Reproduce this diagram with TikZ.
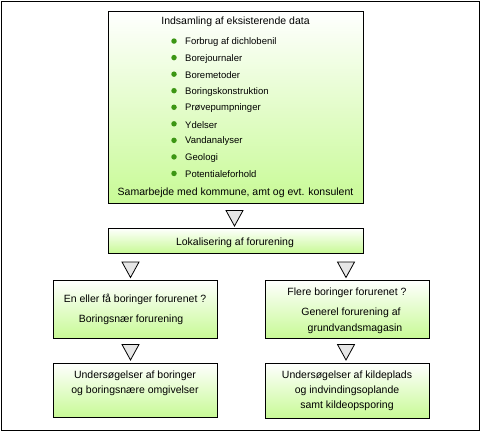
\documentclass[tikz,border=0pt]{standalone}
\usepackage{fontspec}
\setmainfont{Liberation Sans}
\definecolor{boxgreen}{RGB}{200,250,150}
\definecolor{bulletgreen}{RGB}{60,150,20}
\definecolor{trigray}{RGB}{230,230,230}
\begin{document}
\begin{tikzpicture}[x=1pt,y=-1pt,
  box/.style={draw=black,line width=0.9pt,top color=white,bottom color=boxgreen,inner sep=0pt},
  head/.style={font=\fontsize{10.5}{12}\selectfont,inner sep=0pt,align=center},
  item/.style={font=\fontsize{9.5}{11}\selectfont,inner sep=0pt,anchor=west},
  tri/.style={draw=black,line width=0.8pt,fill=trigray,line join=miter},
  bul/.style={circle,fill=bulletgreen,inner sep=0pt,minimum size=5.5pt}]
\useasboundingbox (0,0) rectangle (481,432);
\node[draw=black,line width=1pt,minimum width=478pt,minimum height=429pt,inner sep=0pt] (frame) at (240,215.5) {};
% boxes
\node[box,minimum width=255pt,minimum height=192pt] (top) at (235.5,107) {};
\node[box,minimum width=255pt,minimum height=25pt] (lok) at (235.5,240.5) {};
\node[box,minimum width=164pt,minimum height=58pt] (lm) at (135,309) {};
\node[box,minimum width=164pt,minimum height=58pt] (rm) at (347,309) {};
\node[box,minimum width=164pt,minimum height=54pt] (lb) at (135,390) {};
\node[box,minimum width=164pt,minimum height=55pt] (rb) at (347,390.5) {};
% top box texts
\node[head] (title) at (235.5,22) {Indsamling af eksisterende data};
\foreach \t [count=\i] in {Forbrug af dichlobenil,Borejournaler,Boremetoder,Boringskonstruktion,Prøvepumpninger,Ydelser,Vandanalyser,Geologi,Potentialeforhold}{
  \node[bul] (b\i) at (174,24.5+16.55*\i) {};
  \node[item] (it\i) at (185,25.5+16.55*\i) {\t};
}
\node[head] (samarb) at (235.5,193) {Samarbejde med kommune, amt og evt. konsulent};
\node[head] (loktext) at (235,243) {Lokalisering af forurening};
\node[head] (lm1) at (135,299) {En eller få boringer forurenet ?};
\node[head] (lm2) at (131,320) {Boringsnær forurening};
\node[head] (rm1) at (347,293) {Flere boringer forurenet ?};
\node[head] (rm2) at (351,313) {Generel forurening af};
\node[head] (rm3) at (355,329) {grundvandsmagasin};
\node[head] (lb1) at (135,376) {Undersøgelser af boringer};
\node[head] (lb2) at (135,391) {og boringsnære omgivelser};
\node[head] (rb1) at (347,376) {Undersøgelser af kildeplads};
\node[head] (rb2) at (347,391) {og indvindingsoplande};
\node[head] (rb3) at (347,406) {samt kildeopsporing};
% triangle markers
\coordinate (t1) at (234.5,218);
\coordinate (t2) at (130.5,269.5);
\coordinate (t3) at (346,269.5);
\coordinate (t4) at (130.5,352);
\coordinate (t5) at (346,352);
\foreach \c in {t1,t2,t3,t4,t5}{
  \draw[tri] (\c) ++(-8.5,-7.5) -- ++(17,0) -- ++(-8.5,15.5) -- cycle;
}
\end{tikzpicture}
\end{document}
